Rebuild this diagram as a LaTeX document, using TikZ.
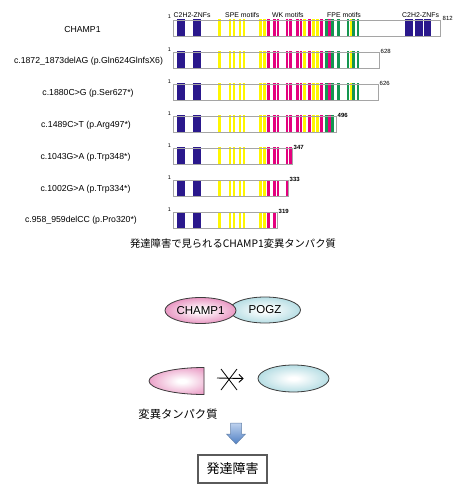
\documentclass[tikz,border=0pt]{standalone}
\usepackage{fontspec}
\setmainfont{Liberation Sans}
\newfontfamily\jpfont{Noto Sans CJK JP}
\usetikzlibrary{arrows.meta,shapes.geometric}
\definecolor{znf}{RGB}{42,24,140}
\definecolor{spe}{RGB}{255,246,0}
\definecolor{wk}{RGB}{228,0,126}
\definecolor{fpe}{RGB}{20,150,80}
\definecolor{barline}{RGB}{165,165,165}
\definecolor{champpink}{RGB}{222,100,165}
\definecolor{pogzteal}{RGB}{140,202,212}
\definecolor{outl}{RGB}{60,60,60}
\definecolor{arrtop}{RGB}{190,210,238}
\definecolor{arrbot}{RGB}{80,128,196}
\definecolor{arrline}{RGB}{100,130,170}
\definecolor{boxline}{RGB}{90,90,90}
\pgfdeclareradialshading{pinkglow}{\pgfpointorigin}{color(0bp)=(white); color(3bp)=(white); color(36bp)=(champpink); color(50bp)=(champpink)}
\pgfdeclareradialshading{tealglow}{\pgfpointorigin}{color(0bp)=(white); color(3bp)=(white); color(38bp)=(pogzteal); color(50bp)=(pogzteal)}
\def\stripelist{177/185/znf,193/201/znf,218/221/spe,229/231/spe,233/235/spe,239/241/spe,243/245/spe,259/261.5/spe,263.5/265.5/spe,267/269.5/wk,273.5/275.5/wk,277/279/wk,286/288/wk,289.5/291.5/wk,296.5/298.5/wk,300/302/wk,303.5/305.5/spe,308/310.5/wk,312.5/314.5/spe,316.5/319/spe,320/322.5/wk,325.5/327.5/fpe,328.5/330.5/wk,331.5/333.5/fpe,337.5/339.5/fpe,347/349/fpe,350/352/spe,352.5/354.5/fpe,357/359/fpe,405.5/413/znf,415/422.5/znf,424/431/znf}
\newcommand\drawstripes[1]{%
  \begin{scope}
    \clip (#1.north west) rectangle (#1.south east);
    \foreach \xa/\xb/\col in \stripelist {\fill[\col] ({\xa-0.35},0) rectangle ({\xb+0.35},500);}
  \end{scope}
  \draw[barline, line width=0.8pt] (#1.north west) rectangle (#1.south east);}
\tikzset{
  bar/.style={draw=barline, line width=0.8pt, fill=white, anchor=north west, minimum height=16pt, inner sep=0pt, outer sep=0pt},
  mutlab/.style={font=\fontsize{8.7}{10}\selectfont, inner sep=0pt},
  hdlab/.style={font=\fontsize{6.9}{8}\selectfont, inner sep=0pt, anchor=west},
  numlab/.style={font=\fontsize{6}{7}\selectfont, inner sep=0pt, anchor=west},
  onelab/.style={font=\fontsize{5.5}{6}\selectfont, inner sep=0pt},
  blob/.style={ellipse, draw=outl, line width=0.8pt, inner sep=0pt, minimum width=71pt, minimum height=26pt, font=\fontsize{11.5}{13}\selectfont},
  jp/.style={font=\jpfont\fontsize{#1}{#1}\selectfont, inner sep=0pt}
}
\begin{document}
\begin{tikzpicture}[x=1pt,y=-1pt]
\useasboundingbox (0,0) rectangle (467,497);
\fill[white] (0,0) rectangle (467,497);

% bars
\node[bar, minimum width=267pt] (b1) at (173,20) {};
\node[bar, minimum width=206pt] (b2) at (173,52) {};
\node[bar, minimum width=205pt] (b3) at (173,84) {};
\node[bar, minimum width=163pt] (b4) at (173,116) {};
\node[bar, minimum width=119pt] (b5) at (173,148) {};
\node[bar, minimum width=115pt] (b6) at (173,180) {};
\node[bar, minimum width=104pt] (b7) at (173,212) {};
\drawstripes{b1}
\drawstripes{b2}
\drawstripes{b3}
\drawstripes{b4}
\drawstripes{b5}
\drawstripes{b6}
\drawstripes{b7}

% header labels
\node[hdlab] (h1) at (173.5,15.5) {C2H2-ZNFs};
\node[hdlab] (h2) at (225,15.5) {SPE motifs};
\node[hdlab] (h3) at (272,15.5) {WK motifs};
\node[hdlab] (h4) at (327,15.5) {FPE motifs};
\node[hdlab] (h5) at (402,15.5) {C2H2-ZNFs};

% start labels
\node[onelab] (s1) at (169.5,17) {1};
\node[onelab] (s2) at (169.5,50) {1};
\node[onelab] (s3) at (169.5,82) {1};
\node[onelab] (s4) at (169.5,114) {1};
\node[onelab] (s5) at (169.5,146) {1};
\node[onelab] (s6) at (169.5,178) {1};
\node[onelab] (s7) at (169.5,210) {1};

% end labels
\node[numlab] (e1) at (442.5,18) {812};
\node[numlab] (e2) at (380.5,51.5) {628};
\node[numlab] (e3) at (379.5,83.5) {626};
\node[numlab, font=\bfseries\fontsize{6}{7}\selectfont] (e4) at (337.5,115.5) {496};
\node[numlab, font=\bfseries\fontsize{6}{7}\selectfont] (e5) at (293.5,147.5) {347};
\node[numlab, font=\bfseries\fontsize{6}{7}\selectfont] (e6) at (289.5,179.5) {333};
\node[numlab, font=\bfseries\fontsize{6}{7}\selectfont] (e7) at (278.5,211.5) {319};

% mutation labels
\node[mutlab] (l1) at (82.5,29.5) {CHAMP1};
\node[mutlab] (l2) at (88.5,61.5) {c.1872\_1873delAG (p.Gln624GlnfsX6)};
\node[mutlab] (l3) at (88,93.5) {c.1880C>G (p.Ser627*)};
\node[mutlab] (l4) at (86,125.5) {c.1489C>T (p.Arg497*)};
\node[mutlab] (l5) at (85.5,157.5) {c.1043G>A (p.Trp348*)};
\node[mutlab] (l6) at (85.5,189.5) {c.1002G>A (p.Trp334*)};
\node[mutlab] (l7) at (81,220.5) {c.958\_959delCC (p.Pro320*)};

% title
\node[jp=10.3] (title) at (233,244) {発達障害で見られるCHAMP1変異タンパク質};

% interaction
\node[blob, shading=tealglow] (pogz) at (265,310) {POGZ};
\node[blob, shading=pinkglow] (champ) at (200.5,310.5) {CHAMP1};

% truncated protein
\begin{scope}
  \clip (204,367.5) arc[start angle=270, end angle=90, x radius=55, y radius=13.5] -- cycle;
  \fill[champpink] (140,360) rectangle (210,400);
  \shade[shading=pinkglow] (182,381) ellipse[x radius=36, y radius=16];
\end{scope}
\draw[draw=outl, line width=0.8pt] (204,367.5) arc[start angle=270, end angle=90, x radius=55, y radius=13.5] -- cycle;
\coordinate (mutend) at (204,378);
\node[ellipse, draw=outl, line width=0.8pt, shading=tealglow, inner sep=0pt, minimum width=71pt, minimum height=27pt] (tgt) at (293.5,378.5) {};
\draw[line width=0.9pt, -{Straight Barb[length=4pt,width=8pt]}] ([xshift=13pt]mutend) -- ([xshift=-14pt]tgt.west);
\coordinate (xc) at (229,379.5);
\draw[line width=0.8pt] ([shift={(-8,-10.5)}]xc) -- ([shift={(8,10.5)}]xc);
\draw[line width=0.8pt] ([shift={(-8,10.5)}]xc) -- ([shift={(8,-10.5)}]xc);
\node[jp=11.3] (mutlab) at (178,414) {変異タンパク質};

% down arrow
\draw[top color=arrtop, bottom color=arrbot, draw=arrline, line width=0.5pt] (230.5,423) -- (241.5,423) -- (241.5,434) -- (245.5,434) -- (236,444) -- (226.5,434) -- (230.5,434) -- cycle;

% result box
\node[draw=boxline, line width=1.2pt, minimum width=69pt, minimum height=28pt, inner sep=0pt, font=\jpfont\fontsize{13}{15}\selectfont] (dd) at (232.5,469) {発達障害};
\end{tikzpicture}
\end{document}
